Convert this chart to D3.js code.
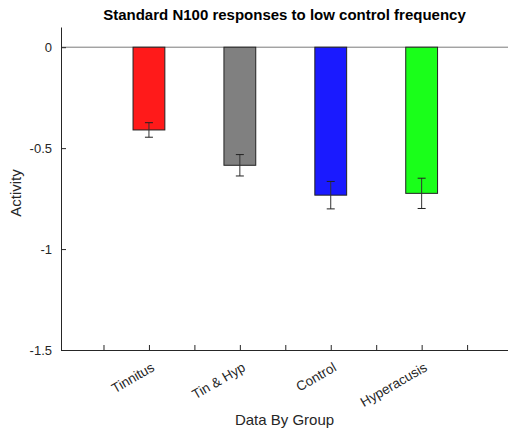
<!DOCTYPE HTML>
<html>
  <head>
    <style>
      body { margin: 0px; background: #fff; }
      text { font-family: "Liberation Sans", Arial, sans-serif; }
    </style>
  </head>
  <body>
    <script src="https://cdn.jsdelivr.net/npm/d3@7"></script>
    <script>
      // *** DATA ***
      var groups = ["Tinnitus", "Tin & Hyp", "Control", "Hyperacusis"];
      var positions = [2, 4, 6, 8];
      var means = [-0.41, -0.585, -0.733, -0.724];
      var errors = [0.036, 0.053, 0.068, 0.075];
      var colors = ["#ff1a1a", "#808080", "#1a1aff", "#1aff1a"];
      var xTicks = [1, 2, 3, 4, 5, 6, 7, 8, 9];
      var yTicks = [0, -0.5, -1, -1.5];
      var yTickLabels = ["0", "-0.5", "-1", "-1.5"];

      var width = 508, height = 432;
      // plot box (note: "top" is reserved on window, so prefixed)
      var pLeft = 61, pRight = 508, pTop = 27, pBottom = 350;
      var barWidth = 0.7;

      var svg = d3.select("body").append("svg")
        .attr("width", width)
        .attr("height", height);

      // scales
      var x = d3.scaleLinear().domain([0.065, 9.9]).range([pLeft, pRight]);
      var y = d3.scaleLinear().domain([-1.5, 0.1]).range([pBottom, pTop]);

      // zero line
      svg.append("line")
        .attr("x1", pLeft).attr("x2", pRight)
        .attr("y1", y(0)).attr("y2", y(0))
        .style("stroke", "#7a7a7a").style("stroke-width", 1);

      // bars
      var bars = groups.map(function(g, i){
        return {name: g, pos: positions[i], mean: means[i], err: errors[i], color: colors[i]};
      });

      svg.selectAll("rect.bar").data(bars)
        .enter()
        .append("rect")
          .attr("class", "bar")
          .attr("x", function(d){ return x(d.pos - barWidth/2); })
          .attr("y", y(0))
          .attr("width", function(d){ return x(d.pos + barWidth/2) - x(d.pos - barWidth/2); })
          .attr("height", function(d){ return y(d.mean) - y(0); })
          .style("fill", function(d){ return d.color; })
          .style("stroke", "#222")
          .style("stroke-width", 1);

      // error bars
      var eb = svg.selectAll("g.err").data(bars).enter().append("g").attr("class", "err");
      eb.append("line")
        .attr("x1", function(d){ return x(d.pos); })
        .attr("x2", function(d){ return x(d.pos); })
        .attr("y1", function(d){ return y(d.mean + d.err); })
        .attr("y2", function(d){ return y(d.mean - d.err); })
        .style("stroke", "#333").style("stroke-width", 1);
      eb.append("line")
        .attr("x1", function(d){ return x(d.pos) - 4; })
        .attr("x2", function(d){ return x(d.pos) + 4; })
        .attr("y1", function(d){ return y(d.mean + d.err); })
        .attr("y2", function(d){ return y(d.mean + d.err); })
        .style("stroke", "#222").style("stroke-width", 1);
      eb.append("line")
        .attr("x1", function(d){ return x(d.pos) - 4; })
        .attr("x2", function(d){ return x(d.pos) + 4; })
        .attr("y1", function(d){ return y(d.mean - d.err); })
        .attr("y2", function(d){ return y(d.mean - d.err); })
        .style("stroke", "#222").style("stroke-width", 1);

      // y axis
      var yAxis = svg.append("g")
        .attr("transform", "translate(" + pLeft + ",0)")
        .call(d3.axisLeft(y).tickValues(yTicks).tickSizeInner(-5).tickSizeOuter(0)
          .tickFormat(function(d, i){ return yTickLabels[i]; }));
      yAxis.select(".domain").style("stroke", "#262626");
      yAxis.selectAll(".tick line").style("stroke", "#262626");
      yAxis.selectAll(".tick text")
        .attr("x", -9)
        .style("font-size", "13px")
        .style("fill", "#262626");

      // x axis
      var xAxis = svg.append("g")
        .attr("transform", "translate(0," + pBottom + ")")
        .call(d3.axisBottom(x).tickValues(xTicks).tickSizeInner(-5).tickSizeOuter(0)
          .tickFormat(function(d){
            var k = positions.indexOf(d);
            return k >= 0 ? groups[k] : "";
          }));
      xAxis.select(".domain").style("stroke", "#262626");
      xAxis.selectAll(".tick line").style("stroke", "#262626");
      xAxis.selectAll(".tick text")
        .attr("y", 0).attr("dy", 0)
        .attr("transform", "translate(6,20) rotate(-30)")
        .style("text-anchor", "end")
        .style("font-size", "13.5px")
        .style("fill", "#262626");

      // labels
      svg.append("text")
        .attr("x", (pLeft + pRight) / 2).attr("y", 20)
        .style("text-anchor", "middle")
        .style("font-size", "15px")
        .style("font-weight", "bold")
        .style("fill", "#000")
        .text("Standard N100 responses to low control frequency");

      svg.append("text")
        .attr("x", (pLeft + pRight) / 2).attr("y", 425)
        .style("text-anchor", "middle")
        .style("font-size", "15px")
        .style("fill", "#262626")
        .text("Data By Group");

      svg.append("text")
        .attr("transform", "translate(21," + 193 + ") rotate(-90)")
        .style("text-anchor", "middle")
        .style("font-size", "15px")
        .style("fill", "#262626")
        .text("Activity");
    </script>
  </body>
</html>
